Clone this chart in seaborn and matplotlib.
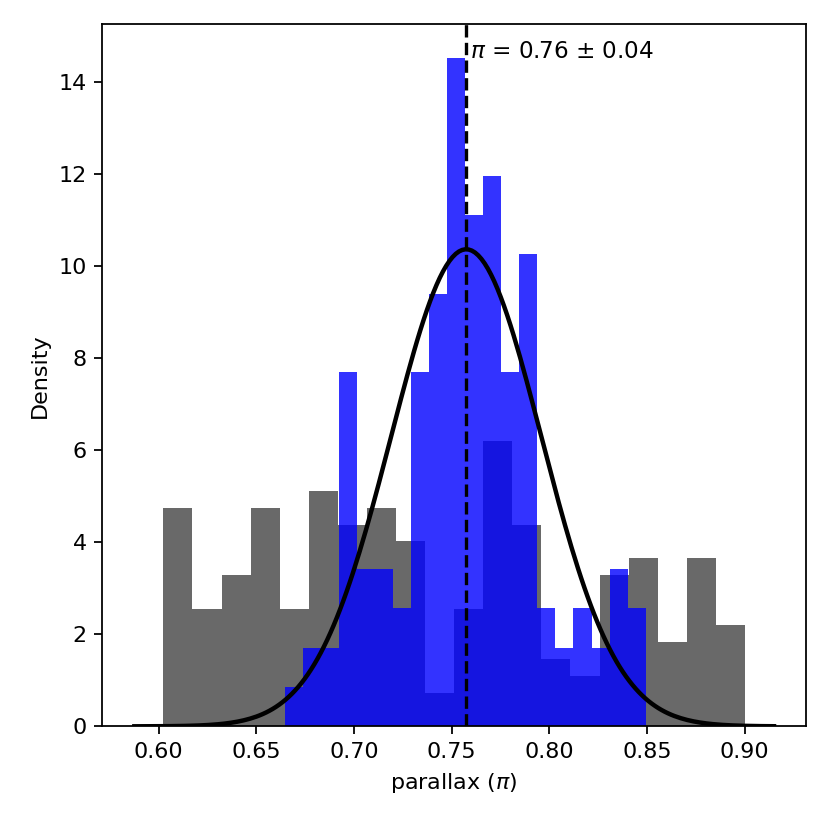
import numpy as np
import pandas as pd
import matplotlib
matplotlib.use("Agg")
import matplotlib.pyplot as plt
import seaborn as sns

# wide sample (grey): 20 equal bins, counts per bin
wide_lo, wide_hi = 0.6024, 0.9001
wide_counts = [13, 7, 9, 13, 7, 14, 12, 13, 11, 2,
               7, 17, 12, 4, 3, 9, 10, 5, 10, 6]

# narrow sample (blue): 20 equal bins, counts per bin
narrow_lo, narrow_hi = 0.66485, 0.8492
narrow_counts = [1, 2, 2, 9, 4, 4, 3, 9, 11, 17,
                 13, 14, 9, 12, 3, 2, 3, 2, 4, 3]

# gaussian fit of the parallax
mu = 0.7574
sigma = 0.0385
label_mu, label_sigma = 0.76, 0.04


def hist_layer(ax, lo, hi, counts, color, alpha):
    edges = np.linspace(lo, hi, len(counts) + 1)
    df = pd.DataFrame({"parallax": 0.5 * (edges[:-1] + edges[1:]),
                       "n": counts})
    sns.histplot(data=df, x="parallax", weights="n", bins=len(counts),
                 binrange=(lo, hi), stat="density", color=color, alpha=alpha,
                 edgecolor="none", linewidth=0, ax=ax)


fig, ax = plt.subplots(figsize=(830 / 160, 830 / 160), dpi=160)
fig.subplots_adjust(left=0.1233, right=0.9711, top=0.9707, bottom=0.1249)

hist_layer(ax, wide_lo, wide_hi, wide_counts, "dimgray", 1.0)
hist_layer(ax, narrow_lo, narrow_hi, narrow_counts, "blue", 0.8)

xmin, xmax = ax.get_xlim()
x = np.linspace(xmin, xmax, 200)
pdf = np.exp(-0.5 * ((x - mu) / sigma) ** 2) / (sigma * np.sqrt(2 * np.pi))
ax.plot(x, pdf, color="k", lw=2)

ax.axvline(mu, color="k", ls="--", lw=1.5)

# label sits on top of the tallest narrow bar
edges_n = np.linspace(narrow_lo, narrow_hi, len(narrow_counts) + 1)
top = max(narrow_counts) / (sum(narrow_counts) * (edges_n[1] - edges_n[0]))
ax.text(mu + 0.002, top, r"$\pi$ = %.2f ± %.2f" % (label_mu, label_sigma),
        fontsize=10.4)

ax.set_xlabel(r"parallax ($\pi$)")
ax.set_ylabel("Density")
ax.set_xticks([0.60, 0.65, 0.70, 0.75, 0.80, 0.85, 0.90])
ax.set_yticks(range(0, 15, 2))

fig.savefig("out.png", dpi=160)
